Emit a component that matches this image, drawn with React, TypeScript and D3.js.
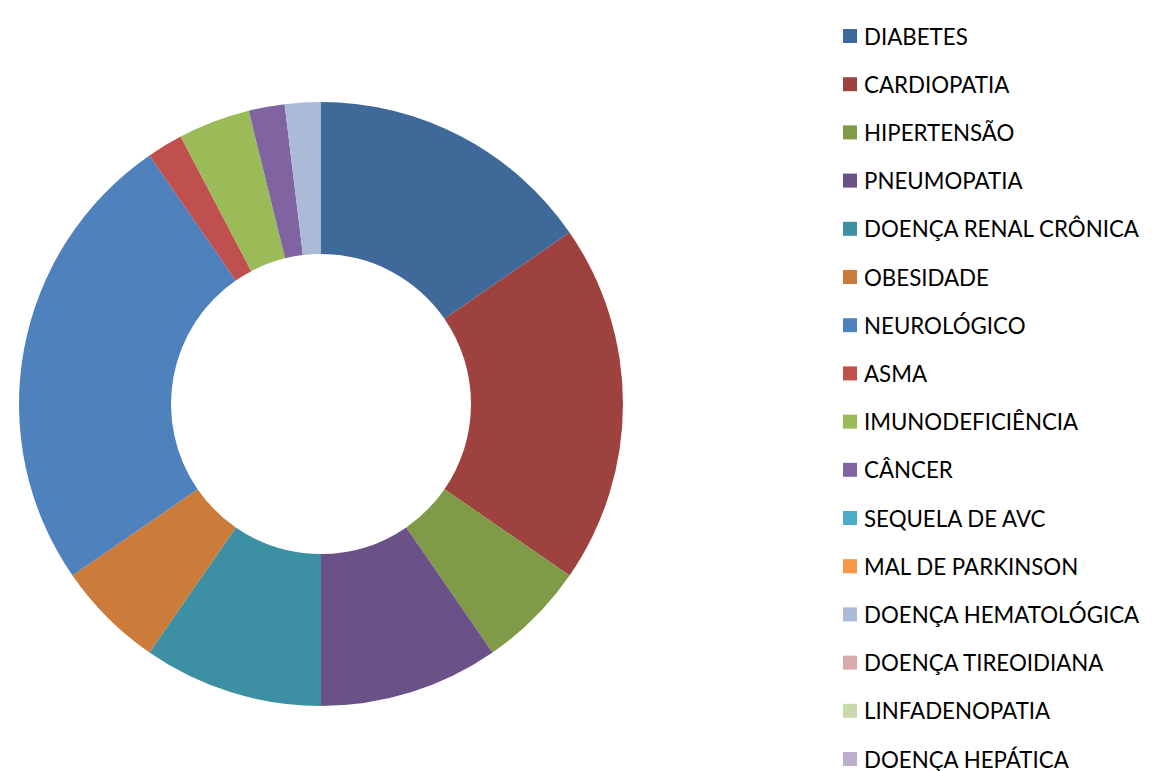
import React, { useRef, useEffect } from "react";
import * as d3 from "d3";

const categories = [
  "DIABETES",
  "CARDIOPATIA",
  "HIPERTENSÃO",
  "PNEUMOPATIA",
  "DOENÇA RENAL CRÔNICA",
  "OBESIDADE",
  "NEUROLÓGICO",
  "ASMA",
  "IMUNODEFICIÊNCIA",
  "CÂNCER",
  "SEQUELA DE AVC",
  "MAL DE PARKINSON",
  "DOENÇA HEMATOLÓGICA",
  "DOENÇA TIREOIDIANA",
  "LINFADENOPATIA",
  "DOENÇA HEPÁTICA",
];

const values = [8, 10, 3, 5, 5, 3, 13, 1, 2, 1, 0, 0, 1, 0, 0, 0];

const colors = [
  "#3F6999",
  "#9E4240",
  "#7F9B48",
  "#6A5188",
  "#3D8FA4",
  "#CC7C3A",
  "#4F81BD",
  "#C0504D",
  "#9BBB59",
  "#8064A2",
  "#4BACC6",
  "#F79646",
  "#AABAD7",
  "#D9AAA9",
  "#C9D9AB",
  "#BBAFCB",
];

export default function App() {
  const svgRef = useRef<SVGSVGElement>(null);

  useEffect(() => {
    const svg = d3.select(svgRef.current);
    svg.selectAll("*").remove();

    const cx = 321;
    const cy = 404;
    const outerR = 302;
    const innerR = 150;

    const data = categories.map((name, i) => ({ name, value: values[i], color: colors[i] }));

    const pie = d3
      .pie<any>()
      .sort(null)
      .value((d) => d.value);
    const arc = d3.arc<any>().innerRadius(innerR).outerRadius(outerR);

    const g = svg.append("g").attr("transform", `translate(${cx}, ${cy})`);
    g.selectAll("path")
      .data(pie(data).filter((d) => d.data.value > 0))
      .enter()
      .append("path")
      .attr("d", arc)
      .attr("fill", (d) => d.data.color);

    // legend
    const legend = svg.append("g").attr("transform", "translate(843, 36)");
    const rowH = 48.2;
    data.forEach((d, i) => {
      const row = legend.append("g").attr("transform", `translate(0, ${i * rowH})`);
      row
        .append("rect")
        .attr("x", 0)
        .attr("y", -7)
        .attr("width", 14)
        .attr("height", 14)
        .attr("fill", d.color);
      row
        .append("text")
        .attr("x", 21)
        .attr("y", 0)
        .attr("dominant-baseline", "central")
        .attr("fill", "#000")
        .style("font-family", "Lato, 'Open Sans', sans-serif")
        .style("font-size", "22.3px")
        .text(d.name);
    });
  }, []);

  return (
    <svg
      ref={svgRef}
      width={1169}
      height={771}
      style={{ position: "absolute", left: 0, top: 0, background: "#fff" }}
    ></svg>
  );
}
